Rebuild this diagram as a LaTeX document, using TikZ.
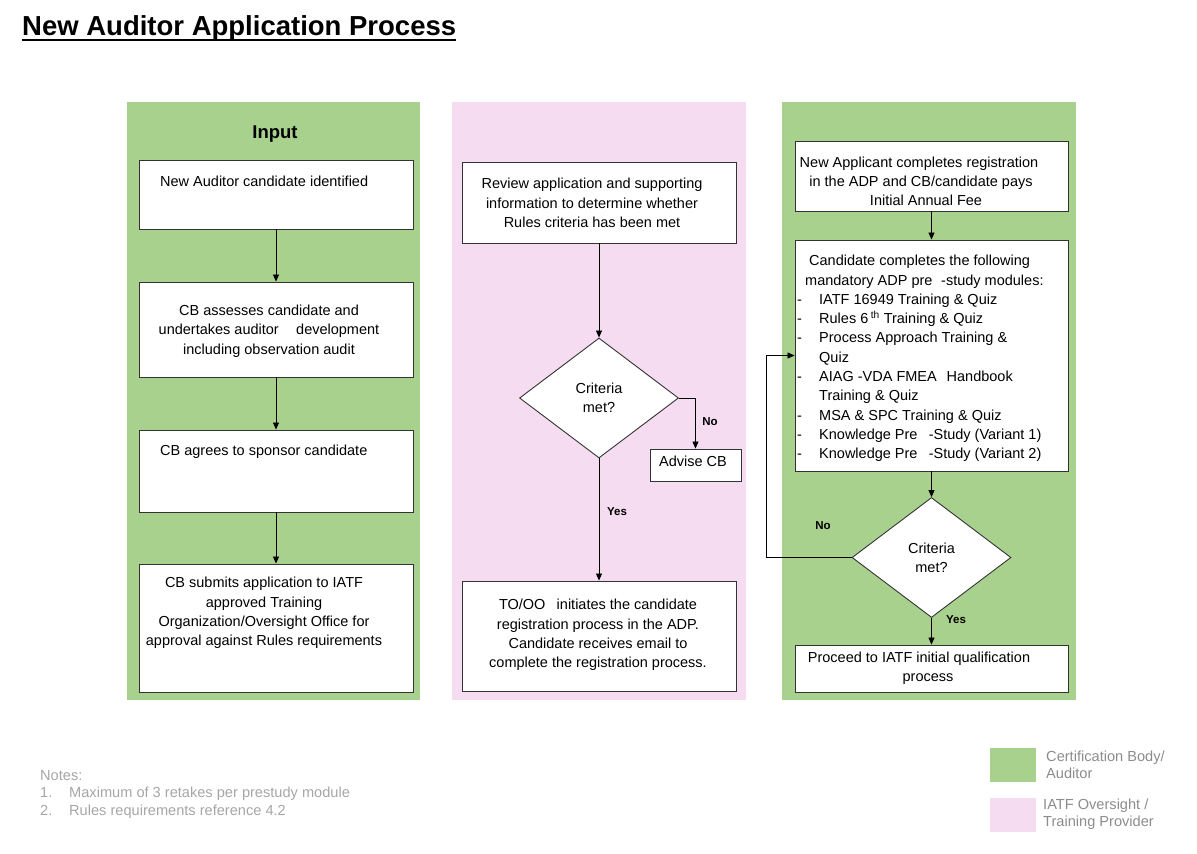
\documentclass[tikz,border=0pt]{standalone}
\usepackage{fontspec}
\setmainfont{Liberation Sans}
\usetikzlibrary{shapes.geometric,arrows.meta,calc}
\definecolor{cbgreen}{HTML}{A9D18E}
\definecolor{iatfpink}{HTML}{F6DCF0}
\definecolor{notegray}{HTML}{A6A6A6}
\begin{document}
\begin{tikzpicture}[x=1pt,y=-1pt,
  panel/.style={draw=none,inner sep=0},
  box/.style={draw=black!80,line width=0.9pt,fill=white,inner sep=0},
  txt/.style={inner sep=0,align=center,font=\fontsize{14.5}{19.3}\selectfont},
  dia/.style={diamond,draw=black!80,line width=0.9pt,fill=white,inner sep=0,aspect=1.325,minimum width=159pt,minimum height=120pt,align=center,font=\fontsize{14.5}{19.3}\selectfont},
  arr/.style={draw=black,line width=0.8pt,-{Triangle[width=6pt,length=7pt]}},
  lbl/.style={inner sep=0,font=\fontsize{11.5}{13}\selectfont\bfseries},
  note/.style={inner sep=0,anchor=base west,text=notegray,font=\fontsize{14.6}{17.5}\selectfont},
]
\useasboundingbox (0,0) rectangle (1197,854);
% title
\node[inner sep=0,anchor=base west,font=\fontsize{27.5}{30}\selectfont\bfseries] (title) at (22,35) {New Auditor Application Process};
\draw[line width=1.9pt] ([yshift=-5pt]title.base west) -- ([yshift=-5pt]title.base east);
% panels
\fill[cbgreen] (127,102) rectangle (420,700);
\fill[iatfpink] (452,102) rectangle (746,700);
\fill[cbgreen] (782,102) rectangle (1076,700);
% left column
\node[inner sep=0,font=\fontsize{18.5}{22}\selectfont\bfseries] (input) at (275,134.5) {Input};
\node[box,minimum width=274pt,minimum height=69pt] (b1) at (276,194.5) {};
\node[txt,anchor=base west] (t1) at (160,186) {New Auditor candidate identified};
\node[box,minimum width=274pt,minimum height=95pt] (b2) at (276,329.5) {};
\node[txt] (t2) at (269,331) {CB assesses candidate and\\undertakes auditor\hspace{1.2em}development\\including observation audit};
\node[box,minimum width=274pt,minimum height=82pt] (b3) at (276,471) {};
\node[txt,anchor=base west] (t3) at (160,455) {CB agrees to sponsor candidate};
\node[box,minimum width=274pt,minimum height=128pt] (b4) at (276,628) {};
\node[txt] (t4) at (264,613) {CB submits application to IATF\\approved Training\\Organization/Oversight Office for\\approval against Rules requirements};
\draw[arr] (b1) -- (b2);
\draw[arr] (b2) -- (b3);
\draw[arr] (b3) -- (b4);
% middle column
\node[box,minimum width=274pt,minimum height=81pt] (rv) at (599,202.5) {};
\node[txt] (trv) at (592,203) {Review application and supporting\\information to determine whether\\Rules criteria has been met};
\node[dia] (d1) at (599,398) {Criteria\\met?};
\node[box,minimum width=91pt,minimum height=32pt] (adv) at (695.5,465) {};
\node[txt] (tadv) at (693,461) {Advise CB};
\node[box,minimum width=274pt,minimum height=110pt] (to) at (599,636) {};
\node[txt] (tto) at (598,635) {TO/OO\hspace{0.5em} initiates the candidate\\registration process in the ADP.\\Candidate receives email to\\complete the registration process.};
\draw[arr] (rv) -- (d1);
\draw[arr] (d1.east) -| (adv.north);
\node[lbl] (no1) at (710,422) {No};
\draw[arr] (d1.south) -- (to.north);
\node[lbl] (yes1) at (617,512) {Yes};
% right column
\node[box,minimum width=273pt,minimum height=70pt] (ra) at (931.5,176) {};
\node[txt] (tra) at (919,181.5) {New Applicant completes registration\\\hspace*{4pt}in the ADP and CB/candidate pays\\\hspace*{14pt}Initial Annual Fee};
\node[box,minimum width=273pt,minimum height=231pt] (rb) at (931.5,355.5) {};
\node[txt,anchor=north west,align=left] (trb) at (797,255) {\hspace*{12pt}Candidate completes the following\\
\hspace*{8pt}mandatory ADP pre\hspace{0.6em}-study modules:\\
\makebox[22pt][l]{-}IATF 16949 Training \& Quiz\\
\makebox[22pt][l]{-}Rules 6\,\textsuperscript{th} Training \& Quiz\\
\makebox[22pt][l]{-}Process Approach Training \&\\
\makebox[22pt][l]{}Quiz\\
\makebox[22pt][l]{-}AIAG -VDA FMEA\hspace{0.4em} Handbook\\
\makebox[22pt][l]{}Training \& Quiz\\
\makebox[22pt][l]{-}MSA \& SPC Training \& Quiz\\
\makebox[22pt][l]{-}Knowledge Pre\hspace{0.5em} -Study (Variant 1)\\
\makebox[22pt][l]{-}Knowledge Pre\hspace{0.5em} -Study (Variant 2)};
\node[dia] (d2) at (931.5,557.5) {Criteria\\met?};
\node[box,minimum width=273pt,minimum height=47pt] (rc) at (931.5,668.5) {};
\node[txt] (trc) at (919,668.5) {Proceed to IATF initial qualification\\\hspace*{18pt}process};
\draw[arr] (ra) -- (rb);
\draw[arr] (rb) -- (d2);
\coordinate (loop) at (766,557.5);
\draw[arr] (d2.west) -- (loop) |- (rb.west);
\node[lbl] (no2) at (823,526) {No};
\draw[arr] (d2.south) -- (rc.north);
\node[lbl] (yes2) at (956,620) {Yes};
% notes
\node[note] (n0) at (40,780) {Notes:};
\node[note] (n1) at (40,797.5) {\makebox[29pt][l]{1.}Maximum of 3 retakes per prestudy module};
\node[note] (n2) at (40,815) {\makebox[29pt][l]{2.}Rules requirements reference 4.2};
% legend
\fill[cbgreen] (990,748) rectangle (1036,782);
\fill[iatfpink] (990,798) rectangle (1036,832);
\node[note,text=black!45,align=left,anchor=north west,font=\fontsize{14.6}{17}\selectfont] (lg1) at (1046,751) {Certification Body/\\Auditor};
\node[note,text=black!45,align=left,anchor=north west,font=\fontsize{14.6}{17}\selectfont] (lg2) at (1043,799) {IATF Oversight /\\Training Provider};
\end{tikzpicture}
\end{document}
